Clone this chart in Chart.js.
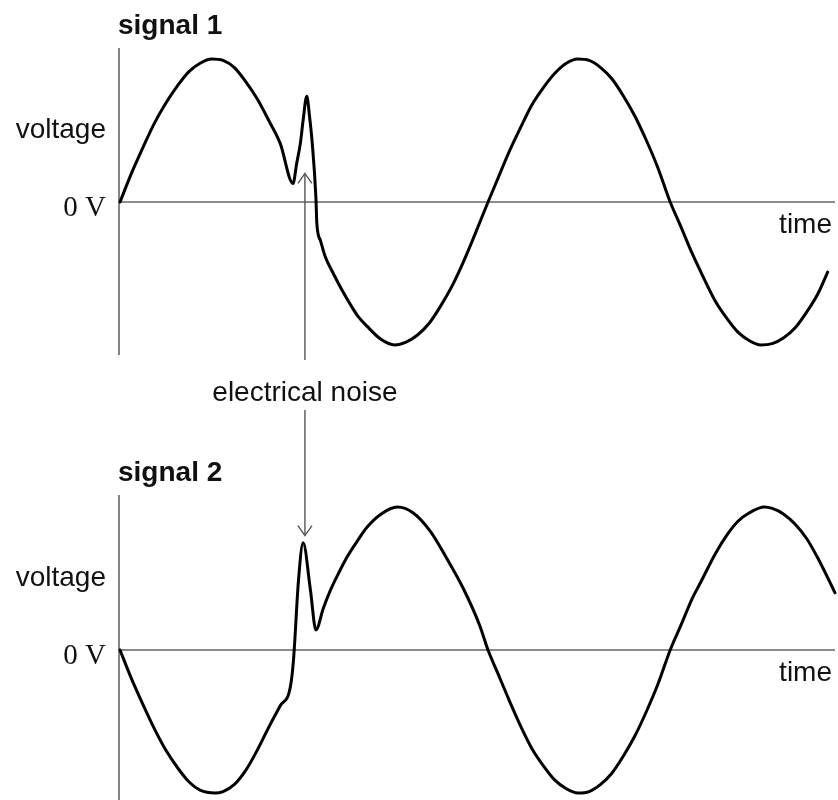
<!DOCTYPE html>
<html><head><meta charset="utf-8">
<script src="https://cdn.jsdelivr.net/npm/chart.js@4"></script>
<style>
html,body{margin:0;padding:0;background:#fff;}
#wrap{position:relative;width:838px;height:800px;overflow:hidden;background:#fff;}
canvas{position:absolute;left:0;}
</style></head><body>
<div id="wrap">
<canvas id="c1" width="838" height="420" style="top:0px"></canvas>
<canvas id="c2" width="838" height="400" style="top:400px"></canvas>
</div>
<script>
// ---- text ----
const panelTitles = ['signal 1', 'signal 2'];
const yAxisLabel = 'voltage';
const zeroLabel = '0 V';
const xAxisLabel = 'time';
const noiseLabel = 'electrical noise';

// ---- data (time in quarter-periods, voltage relative to peak) ----
const signal1Time = [
  0, 0.125, 0.25, 0.375, 0.5, 0.625, 0.75, 0.875, 1.0, 1.125, 1.25, 1.375, 1.5, 1.625, 1.75, 1.89,
  1.93, 1.97, 2.0, 2.04, 2.07, 2.10, 2.14, 2.15, 2.19, 2.24, 2.33, 2.42, 2.51, 2.60, 2.70, 2.85,
  3.0, 3.125, 3.25, 3.375, 3.5, 3.625, 3.75, 3.875, 4.02, 4.125, 4.25, 4.375, 4.5, 4.625, 4.75, 4.875,
  5.0, 5.125, 5.25, 5.375, 5.5, 5.625, 5.75, 5.875, 6.01, 6.125, 6.25, 6.375, 6.5, 6.625, 6.75, 6.875,
  7.0, 7.125, 7.25, 7.375, 7.5, 7.625, 7.73
];
const signal1Voltage = [
  0, 0.20, 0.38, 0.55, 0.69, 0.81, 0.91, 0.97, 1.0, 0.99, 0.94, 0.84, 0.72, 0.57, 0.41, 0.13,
  0.27, 0.41, 0.57, 0.74, 0.60, 0.41, 0.03, -0.15, -0.27, -0.38, -0.50, -0.61, -0.71, -0.80, -0.87, -0.96,
  -1.0, -0.98, -0.93, -0.85, -0.73, -0.59, -0.42, -0.23, 0, 0.16, 0.35, 0.52, 0.68, 0.80, 0.90, 0.97,
  1.0, 0.99, 0.94, 0.86, 0.74, 0.60, 0.43, 0.24, 0, -0.17, -0.36, -0.53, -0.69, -0.81, -0.91, -0.97,
  -1.0, -0.99, -0.95, -0.88, -0.77, -0.64, -0.49
];

const signal2Time = [
  0, 0.125, 0.25, 0.375, 0.5, 0.625, 0.75, 0.875, 1.04, 1.125, 1.25, 1.375, 1.5, 1.625, 1.75, 1.86,
  1.895, 1.95, 2.0, 2.08, 2.14, 2.22, 2.30, 2.39, 2.48, 2.59, 2.70, 2.85, 3.03, 3.20, 3.39, 3.57,
  3.75, 3.93, 4.02, 4.125, 4.25, 4.375, 4.5, 4.625, 4.75, 4.875, 5.0, 5.125, 5.25, 5.375, 5.5, 5.625,
  5.75, 5.875, 6.01, 6.125, 6.25, 6.34, 6.5, 6.625, 6.75, 6.875, 7.04, 7.125, 7.25, 7.375, 7.5, 7.625,
  7.75, 7.81
];
const signal2Voltage = [
  0, -0.20, -0.38, -0.55, -0.70, -0.82, -0.92, -0.98, -1.0, -0.99, -0.94, -0.84, -0.70, -0.54, -0.39, -0.26,
  -0.07, 0.49, 0.75, 0.42, 0.14, 0.29, 0.42, 0.54, 0.65, 0.76, 0.86, 0.95, 1.0, 0.96, 0.83, 0.64,
  0.43, 0.17, 0, -0.16, -0.35, -0.53, -0.69, -0.81, -0.91, -0.97, -1.0, -0.99, -0.94, -0.86, -0.74, -0.60,
  -0.43, -0.24, 0, 0.17, 0.36, 0.47, 0.67, 0.80, 0.90, 0.96, 1.0, 0.99, 0.95, 0.88, 0.78, 0.64,
  0.48, 0.40
];

const noiseTime = 2.02;          // where the arrows point
const noiseTip1 = 0.20;          // arrow tip voltage on signal 1
const noiseTip2 = 0.80;          // arrow tip voltage on signal 2

const SANS = '"Liberation Sans", Arial, Helvetica, sans-serif';
const SERIF = '"Liberation Serif", "Times New Roman", serif';
const AXIS_COLOR = '#666';
const TEXT_COLOR = '#111';

function arrowHead(ctx, x, y, dir) {
  ctx.beginPath();
  ctx.moveTo(x - 7, y - dir * 10);
  ctx.lineTo(x, y);
  ctx.lineTo(x + 7, y - dir * 10);
  ctx.stroke();
}

function makePlugin(panel) {
  return {
    id: 'decor' + panel,
    beforeDatasetsDraw(chart) {
      const ctx = chart.ctx, a = chart.chartArea;
      const xs = chart.scales.x, ys = chart.scales.y;
      const y0 = ys.getPixelForValue(0);
      ctx.save();
      ctx.strokeStyle = AXIS_COLOR;
      ctx.lineWidth = 1.6;
      ctx.beginPath();
      ctx.moveTo(a.left - 1, a.top);
      ctx.lineTo(a.left - 1, a.bottom);
      ctx.moveTo(a.left, y0);
      ctx.lineTo(a.right, y0);
      ctx.stroke();

      const nx = xs.getPixelForValue(noiseTime);
      ctx.strokeStyle = '#555';
      ctx.lineWidth = 1.4;
      if (panel === 0) {
        const tip = ys.getPixelForValue(noiseTip1);
        ctx.beginPath();
        ctx.moveTo(nx, tip);
        ctx.lineTo(nx, a.bottom + 5);
        ctx.stroke();
        arrowHead(ctx, nx, tip, -1);
      } else {
        const tip = ys.getPixelForValue(noiseTip2);
        ctx.beginPath();
        ctx.moveTo(nx, 10);
        ctx.lineTo(nx, tip);
        ctx.stroke();
        arrowHead(ctx, nx, tip, 1);
      }
      ctx.restore();
    },
    afterDraw(chart) {
      const ctx = chart.ctx, a = chart.chartArea;
      const xs = chart.scales.x, ys = chart.scales.y;
      const y0 = ys.getPixelForValue(0);
      ctx.save();
      ctx.fillStyle = TEXT_COLOR;
      ctx.textBaseline = 'alphabetic';
      ctx.font = 'bold 28px ' + SANS;
      ctx.textAlign = 'left';
      ctx.fillText(panelTitles[panel], a.left - 2, a.top - 14);
      ctx.font = '28px ' + SANS;
      ctx.textAlign = 'right';
      ctx.fillText(yAxisLabel, a.left - 14, y0 - 64);
      ctx.fillText(xAxisLabel, a.right - 3, y0 + 31);
      ctx.font = '29px ' + SERIF;
      ctx.fillText(zeroLabel, a.left - 14, y0 + 14);
      if (panel === 0) {
        ctx.font = '28px ' + SANS;
        ctx.textAlign = 'center';
        ctx.fillText(noiseLabel, xs.getPixelForValue(noiseTime), 401);
      }
      ctx.restore();
    }
  };
}

function makeChart(id, panel, times, volts, yMin, yMax, padTop, padBottom) {
  return new Chart(document.getElementById(id), {
    type: 'line',
    data: {
      datasets: [{
        label: panelTitles[panel],
        data: times.map((t, i) => ({ x: t, y: volts[i] })),
        borderColor: '#000',
        borderWidth: 3,
        borderJoinStyle: 'round',
        borderCapStyle: 'round',
        pointRadius: 0,
        fill: false,
        cubicInterpolationMode: 'monotone',
        clip: false
      }]
    },
    options: {
      responsive: false,
      animation: false,
      events: [],
      layout: { padding: { left: 120, right: 3, top: padTop, bottom: padBottom } },
      scales: {
        x: { type: 'linear', min: 0, max: 7.81, display: false },
        y: { type: 'linear', min: yMin, max: yMax, display: false }
      },
      plugins: { legend: { display: false }, tooltip: { enabled: false }, title: { display: false } }
    },
    plugins: [makePlugin(panel)]
  });
}

makeChart('c1', 0, signal1Time, signal1Voltage, -1.07, 1.077, 48, 65);
makeChart('c2', 1, signal2Time, signal2Voltage, -1.049, 1.084, 95, 0);
</script>
</body></html>
